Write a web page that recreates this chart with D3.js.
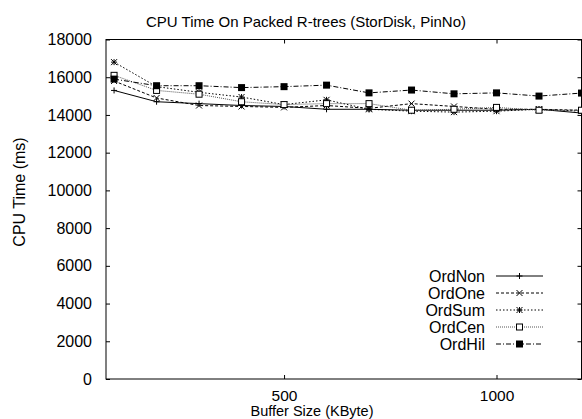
<!DOCTYPE html>
<html>
<head>
<meta charset="utf-8">
<script src="https://cdn.jsdelivr.net/npm/d3@7"></script>
<style>
body { margin: 0; background: #fff; }
text { font-family: "Liberation Sans", Arial, sans-serif; fill: #000; }
</style>
</head>
<body>
<div id="chart"></div>
<script>
const bufferSizes = [100, 200, 300, 400, 500, 600, 700, 800, 900, 1000, 1100, 1200];
const ordNon = [15300, 14700, 14600, 14500, 14450, 14300, 14300, 14250, 14250, 14250, 14300, 14100];
const ordOne = [15800, 14900, 14500, 14450, 14400, 14500, 14350, 14600, 14450, 14300, 14300, 14250];
const ordSum = [16800, 15500, 15200, 14950, 14550, 14800, 14300, 14200, 14150, 14200, 14300, 14200];
const ordCen = [16100, 15300, 15100, 14700, 14550, 14600, 14600, 14250, 14300, 14400, 14250, 14250];
const ordHil = [15900, 15550, 15550, 15450, 15500, 15580, 15170, 15320, 15120, 15170, 15000, 15160];
const yTicks = [0, 2000, 4000, 6000, 8000, 10000, 12000, 14000, 16000, 18000];
const xTicks = [500, 1000];

const series = [
    {name: "OrdNon", values: ordNon, dash: null, marker: "plus", color: "#000"},
    {name: "OrdOne", values: ordOne, dash: "3,2", marker: "cross", color: "#000"},
    {name: "OrdSum", values: ordSum, dash: "1.5,2", marker: "star", color: "#000"},
    {name: "OrdCen", values: ordCen, dash: "1,1", marker: "box", color: "#555"},
    {name: "OrdHil", values: ordHil, dash: "5,2,1,2", marker: "fbox", color: "#000"}
];

const width = 582, height = 419;
const margin = {left: 106, right: 0.5, top: 39.5, bottom: 40};

const svg = d3.select("#chart").append("svg")
    .attr("width", width)
    .attr("height", height);

const x = d3.scaleLinear().domain([81, 1200]).range([margin.left, width - margin.right]);
const y = d3.scaleLinear().domain([0, 18000]).range([height - margin.bottom, margin.top]);

// border box
svg.append("rect")
    .attr("x", margin.left)
    .attr("y", margin.top)
    .attr("width", width - margin.right - margin.left)
    .attr("height", height - margin.bottom - margin.top)
    .attr("fill", "none")
    .attr("stroke", "#000")
    .attr("stroke-width", 1);

// y axis, ticks pointing inward
const yAxis = svg.append("g")
    .attr("transform", `translate(${margin.left},0)`)
    .call(d3.axisLeft(y).tickValues(yTicks).tickSize(-4).tickPadding(14).tickFormat(d3.format("d")));
yAxis.select(".domain").remove();
yAxis.selectAll("text").style("font-size", "16px");

// mirror ticks on the right
svg.append("g")
    .attr("transform", `translate(${width - margin.right},0)`)
    .call(d3.axisRight(y).tickValues(yTicks).tickSize(-4).tickFormat(""))
    .select(".domain").remove();

// x axis
const xAxis = svg.append("g")
    .attr("transform", `translate(0,${height - margin.bottom})`)
    .call(d3.axisBottom(x).tickValues(xTicks).tickSize(-4).tickPadding(11).tickFormat(d3.format("d")));
xAxis.select(".domain").remove();
xAxis.selectAll("text").style("font-size", "15.5px");

svg.append("g")
    .attr("transform", `translate(0,${margin.top})`)
    .call(d3.axisTop(x).tickValues(xTicks).tickSize(-4).tickFormat(""))
    .select(".domain").remove();

// titles
svg.append("text")
    .attr("x", 306)
    .attr("y", 27)
    .attr("text-anchor", "middle")
    .style("font-size", "15px")
    .text("CPU Time On Packed R-trees (StorDisk, PinNo)");

svg.append("text")
    .attr("x", 312)
    .attr("y", 416)
    .attr("text-anchor", "middle")
    .style("font-size", "14.5px")
    .text("Buffer Size (KByte)");

svg.append("text")
    .attr("transform", "translate(25,192) rotate(-90)")
    .attr("text-anchor", "middle")
    .style("font-size", "16px")
    .text("CPU Time (ms)");

function drawMarker(g, type, cx, cy, color) {
    const s = 3;
    if (type === "plus") {
        g.append("path").attr("d", `M${cx - s},${cy}H${cx + s}M${cx},${cy - s}V${cy + s}`)
            .attr("stroke", color).attr("fill", "none");
    } else if (type === "cross") {
        g.append("path").attr("d", `M${cx - s},${cy - s}L${cx + s},${cy + s}M${cx - s},${cy + s}L${cx + s},${cy - s}`)
            .attr("stroke", color).attr("fill", "none");
    } else if (type === "star") {
        g.append("path").attr("d", `M${cx - s},${cy}H${cx + s}M${cx},${cy - s}V${cy + s}M${cx - s},${cy - s}L${cx + s},${cy + s}M${cx - s},${cy + s}L${cx + s},${cy - s}`)
            .attr("stroke", color).attr("fill", "none");
    } else if (type === "box") {
        g.append("rect").attr("x", cx - s).attr("y", cy - s).attr("width", 2 * s).attr("height", 2 * s)
            .attr("stroke", "#000").attr("fill", "#fff");
    } else if (type === "fbox") {
        g.append("rect").attr("x", cx - 3.5).attr("y", cy - 3.5).attr("width", 7).attr("height", 7)
            .attr("fill", "#000");
    }
}

const line = d3.line()
    .x((d, i) => x(bufferSizes[i]))
    .y(d => y(d));

series.forEach(s => {
    const g = svg.append("g");
    g.append("path")
        .attr("d", line(s.values))
        .attr("fill", "none")
        .attr("stroke", s.color)
        .attr("stroke-width", 1)
        .attr("stroke-dasharray", s.dash);
    s.values.forEach((v, i) => drawMarker(g, s.marker, x(bufferSizes[i]), y(v), s.color));
});

// legend
const legendX = 485, legendY = 276, legendStep = 17;
series.forEach((s, i) => {
    const ly = legendY + i * legendStep;
    const g = svg.append("g");
    g.append("text")
        .attr("x", legendX)
        .attr("y", ly + 6)
        .attr("text-anchor", "end")
        .style("font-size", "16px")
        .text(s.name);
    g.append("line")
        .attr("x1", 496).attr("x2", 543)
        .attr("y1", ly).attr("y2", ly)
        .attr("stroke", s.color)
        .attr("stroke-dasharray", s.dash);
    drawMarker(g, s.marker, 519.5, ly, s.color);
});
</script>
</body>
</html>
